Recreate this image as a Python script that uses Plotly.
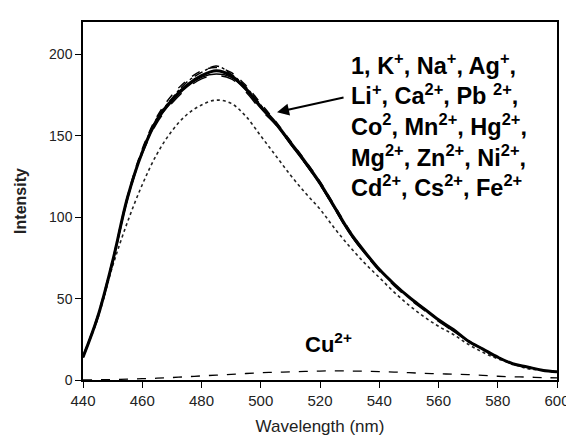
import plotly.graph_objects as go

wavelength = [440, 445, 450, 455, 460, 465, 470, 475, 480, 485, 490, 495, 500,
              505, 510, 515, 520, 525, 530, 535, 540, 545, 550, 555, 560, 565,
              570, 575, 580, 585, 590, 595, 600]

# Bundle of near-identical spectra (ligand 1 + non-quenching ions)
ion_a = [14, 39, 73, 112, 140, 160, 172, 181, 187, 190, 187, 179, 168,
         158, 146, 134, 121, 106, 91, 79, 68, 59, 51, 44, 37, 31,
         24, 19, 14, 10, 8, 6, 5]
ion_b = [14, 40, 74, 113, 142, 162, 175, 184, 190, 192, 189, 181, 170,
         159, 147, 135, 122, 107, 92, 79, 68, 59, 51, 44, 37, 31,
         24, 19, 14, 10, 8, 6, 5]
ion_c = [14, 38, 72, 111, 139, 158, 170, 179, 185, 187, 185, 177, 166,
         157, 145, 133, 120, 105, 90, 78, 67, 58, 50, 43, 36, 30,
         24, 18, 14, 10, 8, 6, 5]
ion_d = [15, 39, 73, 112, 141, 161, 173, 183, 189, 193, 188, 180, 169,
         158, 146, 134, 121, 106, 91, 79, 68, 59, 51, 44, 37, 31,
         24, 19, 14, 10, 8, 6, 5]
ion_e = [14, 39, 72, 111, 140, 159, 171, 180, 186, 188, 186, 178, 167,
         157, 145, 133, 120, 105, 90, 78, 68, 59, 51, 44, 37, 30,
         24, 19, 14, 10, 8, 6, 5]
# Dotted, somewhat lower spectrum
ion_dotted = [14, 38, 70, 97, 120, 139, 153, 163, 169, 172, 170, 162, 150,
              138, 126, 115, 105, 93, 82, 72, 63, 54, 46, 39, 33, 28,
              22, 17, 13, 10, 7, 6, 5]
# Quenched by Cu2+
cu = [0.0, 0.2, 0.3, 0.5, 0.8, 1.1, 1.5, 2.0, 2.5, 3.0, 3.5, 4.0, 4.5,
      4.8, 5.0, 5.3, 5.5, 5.6, 5.5, 5.4, 5.2, 4.9, 4.5, 4.1, 3.8, 3.6,
      3.3, 2.8, 2.3, 2.0, 1.8, 1.5, 1.3]

label_text = ("1, K<sup>+</sup>, Na<sup>+</sup>, Ag<sup>+</sup>,<br>"
              "Li<sup>+</sup>, Ca<sup>2+</sup>, Pb <sup>2+</sup>,<br>"
              "Co<sup>2</sup>, Mn<sup>2+</sup>, Hg<sup>2+</sup>,<br>"
              "Mg<sup>2+</sup>, Zn<sup>2+</sup>, Ni<sup>2+</sup>,<br>"
              "Cd<sup>2+</sup>, Cs<sup>2+</sup>, Fe<sup>2+</sup>")
cu_text = "Cu<sup>2+</sup>"

fig = go.Figure()
fig.add_trace(go.Scatter(x=wavelength, y=ion_dotted, mode="lines", line_shape="spline",
                         line=dict(color="#222", width=1.6, dash="dot")))
styles = [(ion_a, "solid", 3.0), (ion_b, "dash", 1.4), (ion_c, "longdash", 1.4),
          (ion_d, "dashdot", 1.4), (ion_e, "solid", 1.4)]
for ys, dash, w in styles:
    fig.add_trace(go.Scatter(x=wavelength, y=ys, mode="lines", line_shape="spline",
                             line=dict(color="black", width=w, dash=dash)))
fig.add_trace(go.Scatter(x=wavelength, y=cu, mode="lines", line_shape="spline",
                         line=dict(color="black", width=1.3, dash="dash")))

fig.add_annotation(x=505.5, y=164.6, xref="x", yref="y", text="", showarrow=True,
                   ax=68, ay=-15, arrowhead=2, arrowsize=1.2, arrowwidth=2,
                   arrowcolor="black")
fig.add_annotation(x=0.562, y=0.929, xref="paper", yref="paper", text="<b>" + label_text + "</b>",
                   showarrow=False, align="left", xanchor="left", yanchor="top",
                   font=dict(family="Liberation Sans, Arial", size=23.5, color="black"))
fig.add_annotation(x=523, y=22.5, xref="x", yref="y", text="<b>" + cu_text + "</b>",
                   showarrow=False, font=dict(family="Liberation Sans, Arial", size=22,
                                              color="black"))

fig.update_layout(
    width=574, height=437,
    margin=dict(l=73, r=12, t=14, b=62),
    paper_bgcolor="white", plot_bgcolor="white",
    showlegend=False,
    font=dict(family="Liberation Sans, Arial", color="#222"),
)
fig.update_xaxes(range=[440, 600], tickvals=[440, 460, 480, 500, 520, 540, 560, 580, 600],
                 ticks="outside", ticklen=6, tickcolor="black", showgrid=False,
                 zeroline=False, showline=True, linecolor="black", linewidth=1.5,
                 mirror=True, tickfont=dict(size=15, color="#222"),
                 title=dict(text="Wavelength (nm)", font=dict(size=17, color="#222"),
                            standoff=12))
fig.update_yaxes(range=[0, 220], tickvals=[0, 50, 100, 150, 200],
                 ticks="outside", ticklen=6, tickcolor="black", showgrid=False,
                 zeroline=False, showline=True, linecolor="black", linewidth=1.5,
                 mirror=True, tickfont=dict(size=14, color="#222"),
                 title=dict(text="<b>Intensity</b>", font=dict(size=16, color="#222"),
                            standoff=18))

fig.write_html("out.html")
